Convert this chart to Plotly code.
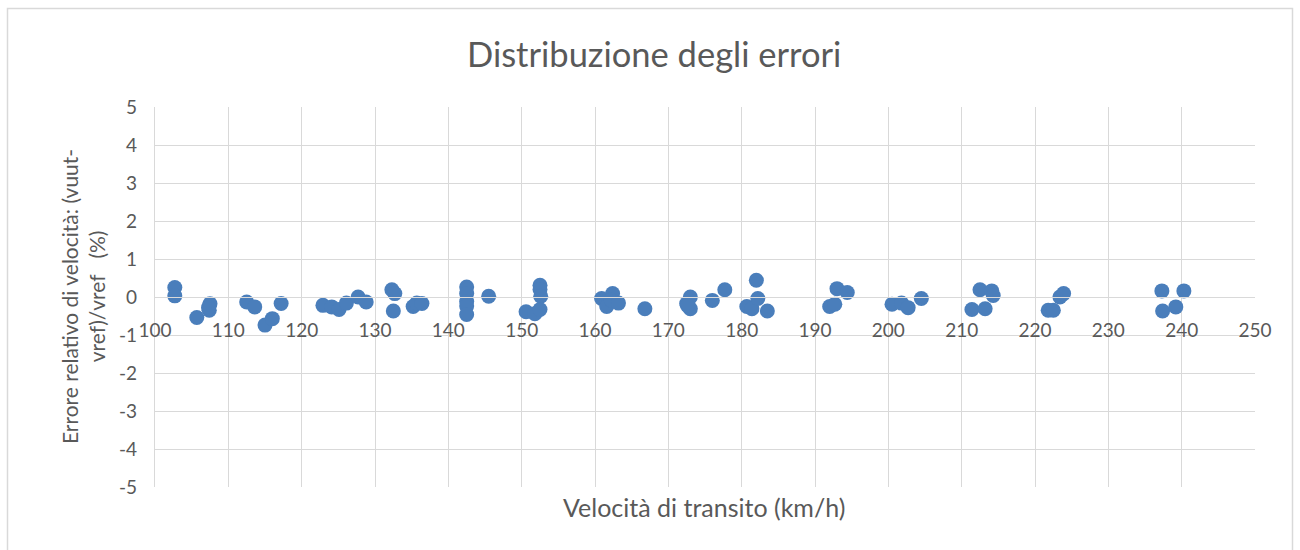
import plotly.graph_objects as go

# Data
velocita = [102.7, 102.7, 105.7, 107.5, 107.4, 107.3, 112.5, 113.6, 115.0, 116.0, 117.2,
            122.9, 124.1, 125.1, 126.1, 127.7, 128.8, 132.3, 132.7, 132.5, 135.2, 135.7, 136.4,
            142.5, 142.5, 142.5, 142.5, 142.5, 145.5, 150.6, 151.8, 152.5, 152.5, 152.6, 152.5,
            160.9, 161.6, 162.4, 162.2, 163.2, 166.8, 172.5, 173.0, 173.0, 172.6, 176.0, 177.7,
            180.7, 181.4, 182.0, 182.2, 183.5, 192.0, 192.7, 193.0, 194.4, 200.5, 201.8, 202.7,
            204.5, 211.4, 212.5, 213.2, 214.1, 214.3, 221.8, 222.5, 223.4, 223.9,
            237.3, 237.4, 239.2, 240.3]
errore = [0.25, 0.03, -0.54, -0.18, -0.35, -0.28, -0.13, -0.26, -0.74, -0.57, -0.17,
          -0.22, -0.26, -0.33, -0.16, 0.0, -0.13, 0.19, 0.09, -0.37, -0.25, -0.16, -0.17,
          0.26, 0.09, -0.12, -0.24, -0.46, 0.02, -0.39, -0.44, 0.31, 0.2, 0.02, -0.33,
          -0.04, -0.25, 0.09, -0.08, -0.16, -0.31, -0.17, 0.0, -0.31, -0.22, -0.09, 0.19,
          -0.25, -0.31, 0.44, -0.04, -0.37, -0.25, -0.19, 0.22, 0.12, -0.19, -0.16, -0.28,
          -0.04, -0.33, 0.19, -0.31, 0.16, 0.04, -0.35, -0.35, 0.0, 0.09,
          0.16, -0.37, -0.26, 0.16]
x_ticks = [100, 110, 120, 130, 140, 150, 160, 170, 180, 190, 200, 210, 220, 230, 240, 250]
y_ticks = [-5, -4, -3, -2, -1, 0, 1, 2, 3, 4, 5]

FONT = "Lato"
GREY = "#595959"
GRID = "#d9d9d9"

W, H = 1300, 550
# plot area in window pixels: x 155..1255, y 107..487
L, T = 155, 107
R, B = W - 1255, H - 487
pw, ph = W - L - R, H - T - B


def px_x(wx):
    return (wx - L) / pw


def px_y(wy):
    return (H - B - wy) / ph


fig = go.Figure()
fig.add_trace(go.Scatter(
    x=velocita, y=errore, mode="markers",
    marker=dict(size=15, color="#4A7EBB", line=dict(width=0)),
    showlegend=False, hoverinfo="x+y"))

fig.update_layout(
    width=W, height=H,
    margin=dict(l=L, r=R, t=T, b=B, autoexpand=False),
    paper_bgcolor="white", plot_bgcolor="white",
    font=dict(family=FONT, color=GREY, size=18),
    xaxis=dict(range=[100, 250], tickvals=x_ticks, ticktext=[str(v) for v in x_ticks],
               showgrid=True, gridcolor=GRID, gridwidth=1.3, zeroline=False,
               showline=True, linecolor=GRID, linewidth=1.3,
               anchor="free", position=0.5,
               ticks="outside", ticklen=16, tickcolor="rgba(0,0,0,0)",
               tickfont=dict(size=19, family=FONT, color=GREY)),
    yaxis=dict(range=[-5, 5], tickvals=y_ticks, ticktext=[str(v) for v in y_ticks],
               showgrid=True, gridcolor=GRID, gridwidth=1.3, zeroline=False,
               showline=True, linecolor=GRID, linewidth=1.3,
               ticks="outside", ticklen=13, tickcolor="rgba(0,0,0,0)",
               tickfont=dict(size=19, family=FONT, color=GREY)),
)

# Title
fig.add_annotation(text="Distribuzione degli errori", xref="paper", yref="paper",
                   x=px_x(654), y=px_y(53), showarrow=False,
                   xanchor="center", yanchor="middle",
                   font=dict(size=34.5, family=FONT, color=GREY))
# X axis title
fig.add_annotation(text="Velocità di transito (km/h)", xref="paper", yref="paper",
                   x=px_x(704), y=px_y(507), showarrow=False,
                   xanchor="center", yanchor="middle",
                   font=dict(size=25, family=FONT, color=GREY))
# Y axis title
fig.add_annotation(text="Errore relativo di velocità: (vuut-<br>vref)/vref   (%)",
                   xref="paper", yref="paper",
                   x=px_x(83), y=px_y(297), showarrow=False, textangle=-90,
                   xanchor="center", yanchor="middle",
                   font=dict(size=21, family=FONT, color=GREY))

# Chart border (left, top, right)
x0, x1 = px_x(7.5), px_x(1292.5)
y_top, y_bot = px_y(8.5), px_y(570)
fig.add_shape(type="path", xref="paper", yref="paper",
              path=f"M {x0} {y_bot} L {x0} {y_top} L {x1} {y_top} L {x1} {y_bot}",
              line=dict(color=GRID, width=1.5))

fig.write_html("out.html",
               config={"displayModeBar": False},
               post_script="document.body.style.margin='0';document.body.style.overflow='hidden';")
